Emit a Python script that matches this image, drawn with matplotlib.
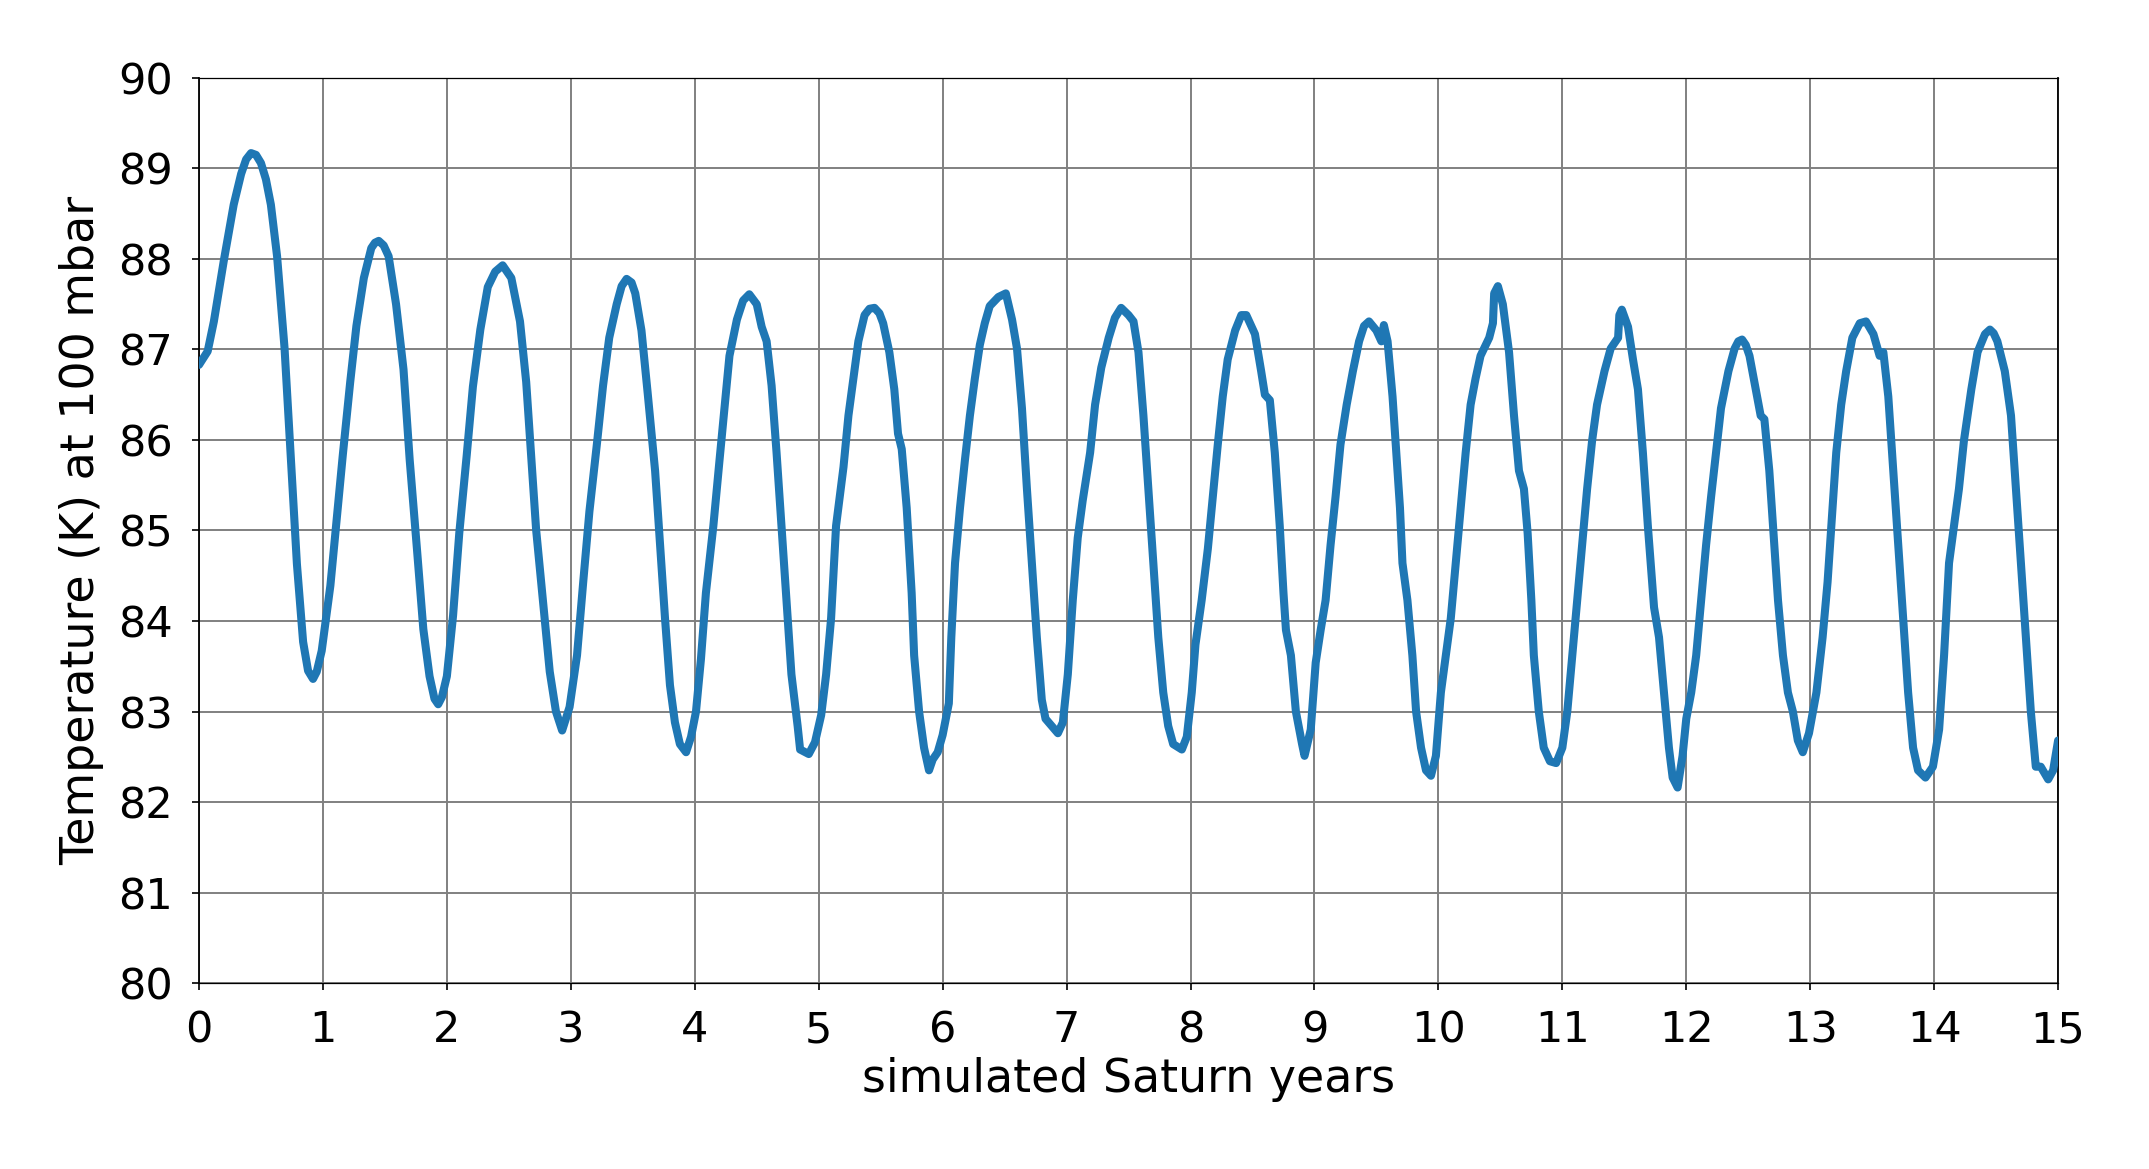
import matplotlib.pyplot as plt

# simulated Saturn years vs temperature at 100 mbar
years = [0.00, 0.07, 0.12, 0.20, 0.28, 0.34, 0.38, 0.42, 0.46, 0.50, 0.54, 0.58, 0.63, 0.69, 0.74, 0.79, 0.84, 0.88, 0.92, 0.95, 0.99,
         1.06, 1.11, 1.16, 1.22, 1.27, 1.33, 1.39, 1.42, 1.45, 1.49, 1.53, 1.59, 1.65, 1.70, 1.76, 1.81, 1.86, 1.90, 1.93, 1.96,
         2.00, 2.05, 2.10, 2.16, 2.21, 2.27, 2.33, 2.39, 2.45, 2.52, 2.59, 2.64, 2.68, 2.72, 2.78, 2.83, 2.88, 2.93,
         2.99, 3.05, 3.10, 3.15, 3.21, 3.26, 3.31, 3.37, 3.41, 3.45, 3.49, 3.52, 3.57, 3.62, 3.68, 3.72, 3.76, 3.80, 3.84, 3.88, 3.93,
         3.97, 4.01, 4.05, 4.09, 4.15, 4.20, 4.24, 4.28, 4.34, 4.39, 4.44, 4.50, 4.54, 4.58, 4.62, 4.66, 4.70, 4.74,
         4.78, 4.83, 4.85, 4.92, 4.97, 5.02, 5.06, 5.10, 5.14, 5.20, 5.24, 5.28, 5.32, 5.37, 5.41, 5.45, 5.49, 5.52, 5.57, 5.61,
         5.64, 5.67, 5.71, 5.75, 5.77, 5.81, 5.85, 5.89, 5.92, 5.96, 6.00, 6.05, 6.07, 6.10, 6.14, 6.18, 6.22, 6.26,
         6.30, 6.34, 6.38, 6.45, 6.51, 6.56, 6.60, 6.64, 6.68, 6.72, 6.76, 6.80, 6.83, 6.88, 6.93, 6.97, 7.01, 7.05,
         7.09, 7.13, 7.19, 7.23, 7.28, 7.34, 7.39, 7.44, 7.50, 7.54, 7.58, 7.62, 7.66, 7.70, 7.74, 7.78, 7.82, 7.86,
         7.93, 7.97, 8.01, 8.04, 8.09, 8.14, 8.18, 8.22, 8.26, 8.30, 8.36, 8.41, 8.45, 8.52, 8.57, 8.60, 8.64, 8.68,
         8.72, 8.75, 8.77, 8.81, 8.85, 8.90, 8.92, 8.97, 9.01, 9.05, 9.09, 9.13, 9.17, 9.21, 9.26, 9.31, 9.36, 9.40, 9.44,
         9.50, 9.54, 9.56, 9.59, 9.63, 9.66, 9.69, 9.71, 9.75, 9.79, 9.82, 9.86, 9.90, 9.94, 9.98, 10.02, 10.06,
         10.10, 10.14, 10.18, 10.22, 10.26, 10.30, 10.34, 10.41, 10.44, 10.45, 10.48, 10.52, 10.57, 10.61, 10.65,
         10.69, 10.72, 10.75, 10.77, 10.81, 10.85, 10.90, 10.95, 11.00, 11.04, 11.08, 11.12, 11.16, 11.20, 11.24,
         11.28, 11.34, 11.39, 11.45, 11.46, 11.48, 11.53, 11.57, 11.61, 11.65, 11.69, 11.74, 11.78, 11.82, 11.86,
         11.89, 11.93, 11.97, 12.00, 12.04, 12.08, 12.12, 12.16, 12.20, 12.24, 12.28, 12.34, 12.39, 12.42, 12.45, 12.48, 12.51,
         12.56, 12.60, 12.63, 12.67, 12.71, 12.74, 12.78, 12.82, 12.86, 12.90, 12.94, 12.99, 13.05, 13.10, 13.14,
         13.18, 13.21, 13.25, 13.29, 13.34, 13.40, 13.45, 13.51, 13.56, 13.59, 13.63, 13.67, 13.71, 13.75, 13.79,
         13.83, 13.87, 13.93, 13.99, 14.04, 14.08, 14.12, 14.16, 14.20, 14.24, 14.30, 14.35, 14.41, 14.45, 14.48, 14.51,
         14.57, 14.62, 14.66, 14.70, 14.74, 14.78, 14.82, 14.86, 14.92, 14.96, 15.00]

temps = [86.83, 86.98, 87.31, 87.98, 88.60, 88.94, 89.10, 89.17, 89.15, 89.06, 88.88, 88.60, 88.03, 87.02, 85.83, 84.63, 83.77, 83.45, 83.36, 83.44, 83.67,
         84.39, 85.11, 85.83, 86.64, 87.26, 87.79, 88.12, 88.18, 88.20, 88.15, 88.03, 87.50, 86.78, 85.78, 84.77, 83.91, 83.39, 83.14, 83.08, 83.16,
         83.39, 84.06, 84.97, 85.83, 86.59, 87.22, 87.69, 87.86, 87.93, 87.79, 87.31, 86.64, 85.83, 85.01, 84.15, 83.44, 83.00, 82.79,
         83.05, 83.62, 84.43, 85.21, 85.95, 86.60, 87.13, 87.50, 87.70, 87.78, 87.74, 87.62, 87.21, 86.52, 85.66, 84.84, 84.03, 83.29, 82.88, 82.64, 82.55,
         82.72, 83.00, 83.58, 84.31, 85.05, 85.78, 86.35, 86.93, 87.33, 87.54, 87.61, 87.50, 87.25, 87.09, 86.60, 85.86, 85.05, 84.23,
         83.41, 82.84, 82.58, 82.53, 82.66, 82.96, 83.41, 84.03, 85.05, 85.70, 86.27, 86.68, 87.09, 87.38, 87.45, 87.46, 87.40, 87.29, 86.97, 86.56,
         86.07, 85.90, 85.25, 84.31, 83.62, 83.00, 82.60, 82.35, 82.47, 82.55, 82.74, 83.09, 83.82, 84.64, 85.25, 85.78, 86.27, 86.68,
         87.05, 87.29, 87.48, 87.58, 87.62, 87.33, 87.01, 86.35, 85.46, 84.64, 83.82, 83.13, 82.92, 82.84, 82.76, 82.88, 83.41, 84.23,
         84.92, 85.33, 85.86, 86.39, 86.80, 87.13, 87.35, 87.46, 87.38, 87.31, 86.97, 86.27, 85.46, 84.64, 83.82, 83.21, 82.84, 82.64,
         82.58, 82.72, 83.21, 83.74, 84.23, 84.80, 85.37, 85.95, 86.48, 86.89, 87.21, 87.38, 87.38, 87.17, 86.76, 86.50, 86.44, 85.86,
         85.05, 84.31, 83.90, 83.62, 83.00, 82.64, 82.51, 82.80, 83.54, 83.90, 84.23, 84.84, 85.37, 85.95, 86.39, 86.76, 87.09, 87.26, 87.31,
         87.21, 87.09, 87.27, 87.09, 86.48, 85.86, 85.25, 84.64, 84.23, 83.62, 83.00, 82.60, 82.35, 82.29, 82.51, 83.21, 83.62,
         84.03, 84.64, 85.25, 85.86, 86.39, 86.68, 86.93, 87.13, 87.29, 87.62, 87.70, 87.50, 86.97, 86.27, 85.66,
         85.46, 84.97, 84.23, 83.62, 83.00, 82.60, 82.45, 82.43, 82.60, 83.00, 83.62, 84.23, 84.84, 85.46, 85.99,
         86.39, 86.76, 87.01, 87.13, 87.38, 87.44, 87.25, 86.89, 86.56, 85.86, 85.05, 84.15, 83.82, 83.21, 82.60,
         82.27, 82.16, 82.51, 82.92, 83.21, 83.62, 84.23, 84.84, 85.37, 85.86, 86.35, 86.76, 87.01, 87.09, 87.11, 87.05, 86.93,
         86.56, 86.27, 86.23, 85.66, 84.84, 84.23, 83.62, 83.21, 83.00, 82.68, 82.55, 82.76, 83.21, 83.82, 84.43,
         85.25, 85.86, 86.39, 86.76, 87.13, 87.29, 87.31, 87.17, 86.93, 86.97, 86.48, 85.66, 84.84, 84.03, 83.21,
         82.60, 82.35, 82.27, 82.39, 82.80, 83.62, 84.64, 85.05, 85.46, 85.99, 86.56, 86.97, 87.17, 87.22, 87.18, 87.09,
         86.76, 86.27, 85.46, 84.64, 83.82, 83.00, 82.39, 82.39, 82.25, 82.35, 82.68]

xticks = list(range(0, 16))
yticks = list(range(80, 91))

fig = plt.figure(figsize=(21.49, 11.69), dpi=100)
ax = fig.add_axes([0.0926, 0.1591, 0.8651, 0.7742])

ax.plot(years, temps, color='#1f77b4', linewidth=5.8, zorder=3,
        solid_joinstyle='round', solid_capstyle='round')

ax.set_xlim(0, 15)
ax.set_ylim(80, 90)
ax.set_xticks(xticks)
ax.set_yticks(yticks)
ax.grid(True, color='#808080', linewidth=1.4)
ax.set_axisbelow(True)

ax.tick_params(labelsize=31, length=5, width=1.2, pad=14)
for side in ['left', 'right']:
    ax.spines[side].set_linewidth(1.3)
for side in ['top', 'bottom']:
    ax.spines[side].set_linewidth(0.9)

ax.set_xlabel('simulated Saturn years', fontsize=33, labelpad=4)
ax.set_ylabel('Temperature (K) at 100 mbar', fontsize=33, labelpad=10)

fig.savefig('out.png', dpi=100)
